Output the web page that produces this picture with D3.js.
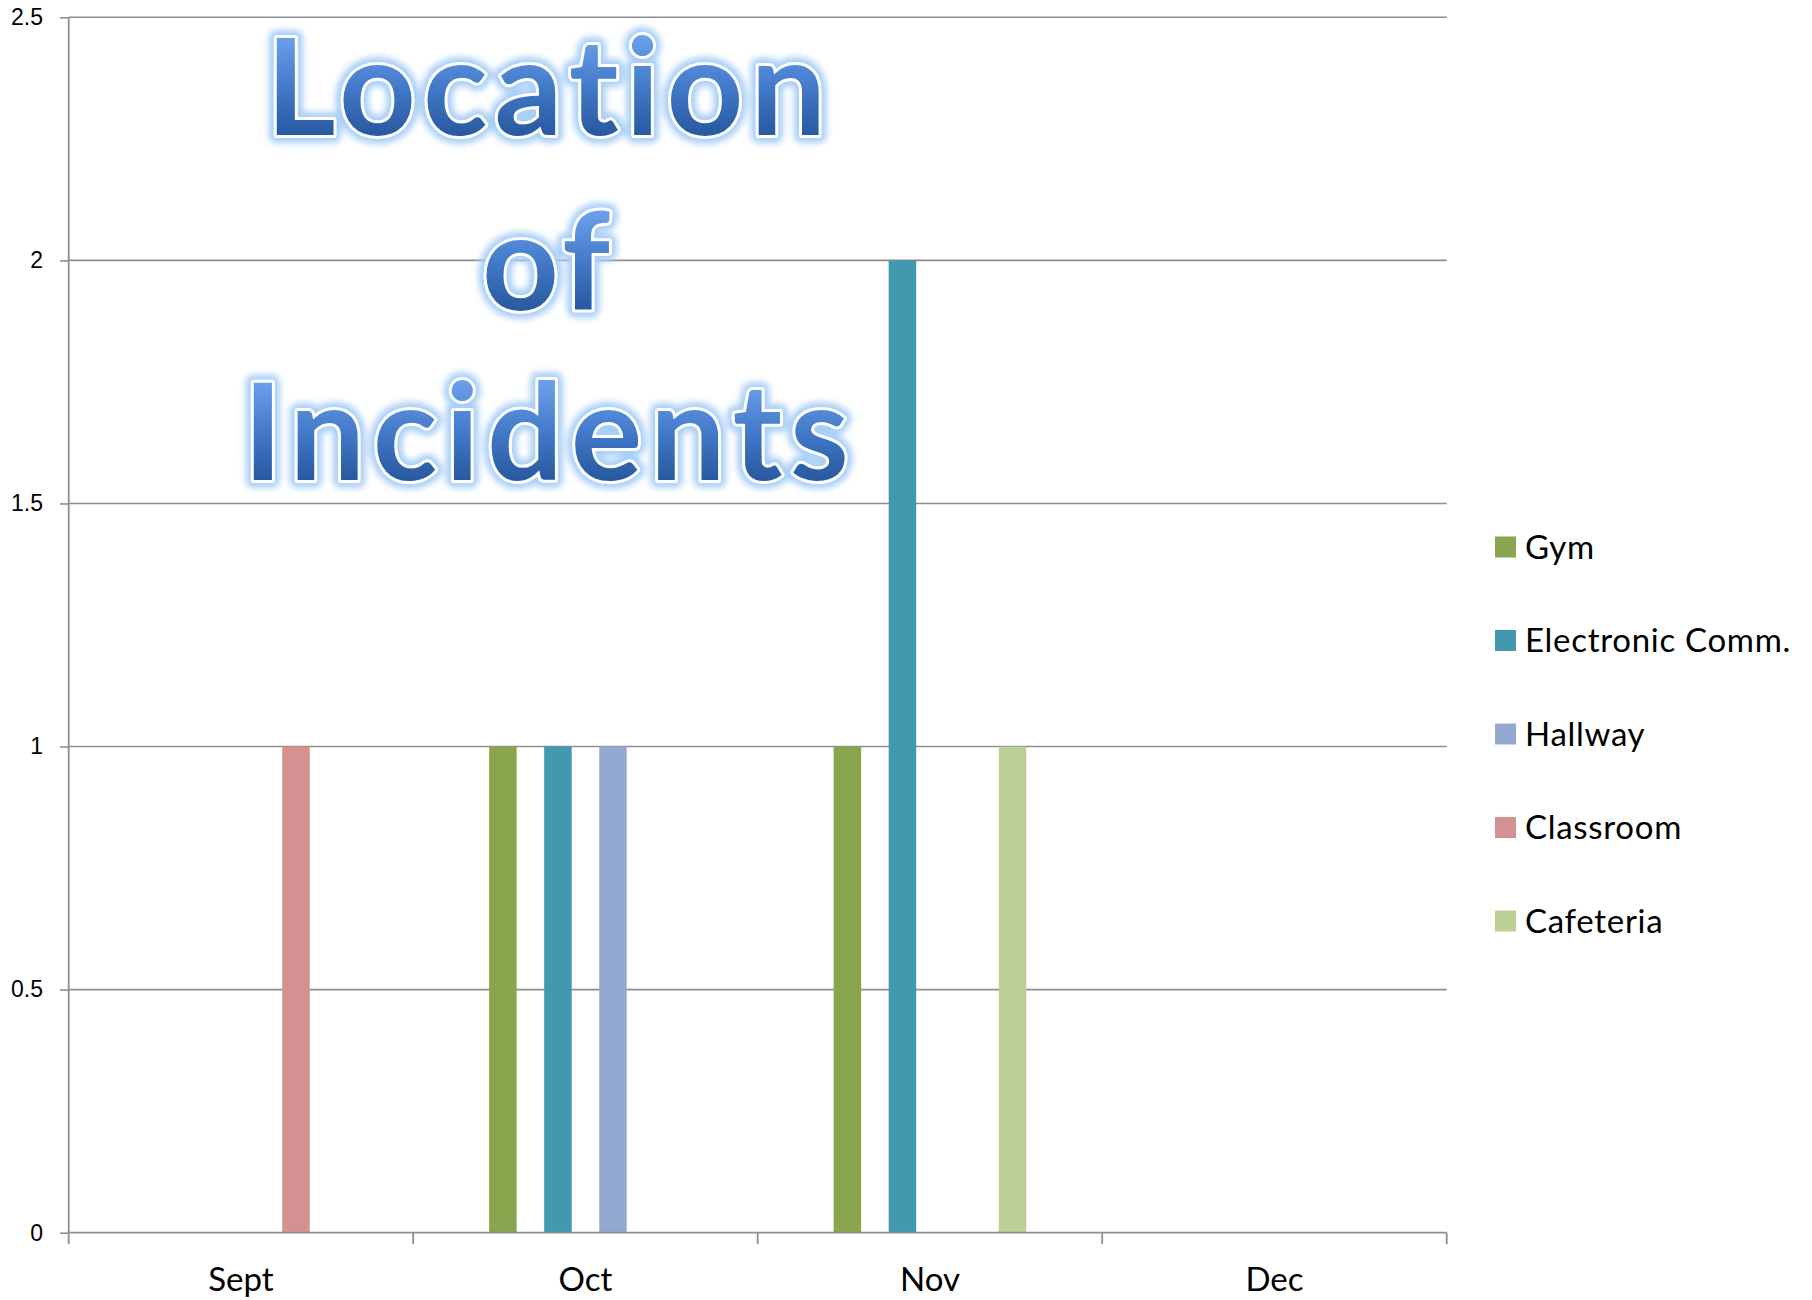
<!DOCTYPE html>
<html>
<head>
<meta charset="utf-8">
<script src="https://cdn.jsdelivr.net/npm/d3@7"></script>
<style>
  body { margin: 0; background: #fff; }
  svg { display: block; font-family: Lato, "Open Sans", sans-serif; font-variant-ligatures: none; }
  .axis path { display: none; }
  .axis line { stroke: #8e8e8e; }
</style>
</head>
<body>
<svg id="chart" width="1812" height="1300"></svg>
<script>
  "use strict";

  const MONTHS = ["Sept", "Oct", "Nov", "Dec"];
  // the sheet has 7 series, two of them unnamed and empty (no legend entry)
  const SERIES = ["Gym", "", "Electronic Comm.", " ", "Hallway", "Classroom", "Cafeteria"];
  const gym        = [0, 1, 1, 0];
  const blankA     = [0, 0, 0, 0];
  const electronic = [0, 1, 2, 0];
  const blankB     = [0, 0, 0, 0];
  const hallway    = [0, 1, 0, 0];
  const classroom  = [1, 0, 0, 0];
  const cafeteria  = [0, 0, 1, 0];
  const VALUES = [gym, blankA, electronic, blankB, hallway, classroom, cafeteria];
  const Y_TICKS = [0, 0.5, 1, 1.5, 2, 2.5];
  const TITLE = ["Location", "of", "Incidents"];

  const color = d3.scaleOrdinal()
    .domain(SERIES)
    .range(["#89a54e", "#fff", "#4198af", "#fff", "#94a9d1", "#d39291", "#bad097"]);

  const svg = d3.select("#chart");
  const L = 68.7, R = 1446.7, T = 17.3, B = 1232.7;

  const y = d3.scaleLinear().domain([0, 2.5]).range([B, T]);
  const x0 = d3.scaleBand().domain(MONTHS).range([L, R]);
  const x1 = d3.scaleBand().domain(SERIES).range([0, x0.bandwidth()])
    .paddingInner(0).paddingOuter(2.76);

  // gridlines
  svg.append("g").selectAll("line").data(Y_TICKS.filter(d => d > 0)).join("line")
    .attr("x1", L).attr("x2", R)
    .attr("y1", d => y(d)).attr("y2", d => y(d))
    .attr("stroke", "#8e8e8e").attr("stroke-width", 1.6);

  // bars
  const rows = [];
  SERIES.forEach((s, i) => MONTHS.forEach((m, j) => {
    if (VALUES[i][j] > 0) rows.push({ s, m, v: VALUES[i][j] });
  }));
  svg.append("g").selectAll("rect").data(rows).join("rect")
    .attr("x", d => x0(d.m) + x1(d.s))
    .attr("width", x1.bandwidth())
    .attr("y", d => y(d.v))
    .attr("height", d => y(0) - y(d.v))
    .attr("fill", d => color(d.s));

  // y axis
  svg.append("g").attr("class", "axis")
    .attr("transform", `translate(${L},0)`)
    .call(d3.axisLeft(y).tickValues(Y_TICKS).tickSize(8.7).tickPadding(17)
      .tickFormat(d3.format("")))
    .call(g => g.selectAll("line").attr("stroke-width", 1.6))
    .call(g => g.selectAll("text").style("font-size", "23px").attr("fill", "#000"));
  svg.append("line").attr("x1", L).attr("x2", L).attr("y1", T).attr("y2", B)
    .attr("stroke", "#8e8e8e").attr("stroke-width", 1.8);

  // x axis
  svg.append("line").attr("x1", L).attr("x2", R).attr("y1", B).attr("y2", B)
    .attr("stroke", "#8e8e8e").attr("stroke-width", 1.8);
  const edges = MONTHS.map(m => x0(m)).concat([R]);
  svg.append("g").selectAll("line").data(edges).join("line")
    .attr("x1", d => d).attr("x2", d => d)
    .attr("y1", B).attr("y2", B + 11.5)
    .attr("stroke", "#8e8e8e").attr("stroke-width", 1.8);
  svg.append("g").selectAll("text").data(MONTHS).join("text")
    .attr("x", d => x0(d) + x0.bandwidth() / 2)
    .attr("y", 1291)
    .attr("text-anchor", "middle")
    .style("font-size", "33px")
    .text(d => d);

  // legend
  const legendNames = SERIES.filter(s => s.trim() !== "");
  const lg = svg.append("g").selectAll("g").data(legendNames).join("g")
    .attr("transform", (d, i) => `translate(1495,${547 + i * 93.5})`);
  lg.append("rect").attr("x", 0).attr("y", -10.5).attr("width", 21).attr("height", 21)
    .attr("fill", d => color(d));
  lg.append("text").attr("x", 30).attr("y", 11.5)
    .style("font-size", "33px").style("letter-spacing", "0.7px")
    .text(d => d);

  // title word-art
  const defs = svg.append("defs");
  const grad = defs.append("linearGradient").attr("id", "tg")
    .attr("x1", 0).attr("y1", 0).attr("x2", 0).attr("y2", 1);
  grad.append("stop").attr("offset", "0.18").attr("stop-color", "#6ea3ee");
  grad.append("stop").attr("offset", "0.55").attr("stop-color", "#3f76c6");
  grad.append("stop").attr("offset", "0.8").attr("stop-color", "#2a5ba2");
  defs.append("filter").attr("id", "glow").attr("x", "-10%").attr("y", "-20%")
    .attr("width", "120%").attr("height", "140%")
    .append("feGaussianBlur").attr("stdDeviation", 3);

  const titleY = [135, 310, 480];
  const titleW = [560, 128, 606];
  const title = svg.append("g").style("font-weight", 700).style("font-size", "134px");
  TITLE.forEach((w, i) => {
    title.append("text")
      .attr("x", 546).attr("y", titleY[i]).attr("text-anchor", "middle")
      .attr("textLength", titleW[i]).attr("lengthAdjust", "spacing")
      .attr("fill", "#a9cff8").attr("stroke", "#a9cff8").attr("stroke-width", 16)
      .attr("stroke-linejoin", "round").attr("filter", "url(#glow)")
      .text(w);
    title.append("text")
      .attr("x", 546).attr("y", titleY[i]).attr("text-anchor", "middle")
      .attr("textLength", titleW[i]).attr("lengthAdjust", "spacing")
      .attr("fill", "url(#tg)").attr("stroke", "#ffffff").attr("stroke-width", 6)
      .attr("stroke-linejoin", "round").style("paint-order", "stroke")
      .text(w);
  });
</script>
</body>
</html>
